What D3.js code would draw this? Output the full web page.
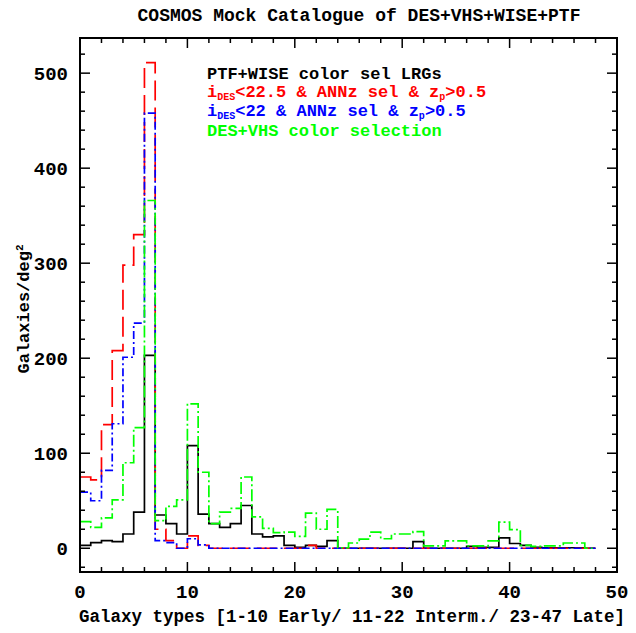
<!DOCTYPE html>
<html><head><meta charset="utf-8">
<script src="https://cdn.jsdelivr.net/npm/d3@7"></script>
<style>body{margin:0;background:#fff}</style>
</head><body>
<script>
// Bin i spans galaxy type [i, i+1)
const binStarts = d3.range(0, 48);
const lrgBlack = [3,6,8,7,15,38,203,35,26,15,108,36,26,22,26,45,15,12,13,3,1,3,2,8,0,0,0,0,0,0,0,7,0,0,0,0,2,1,1,11,5,3,1,0.5,0.5,0.5,0.5,0];
const desRed   = [75,72,130,208,298,330,511,20,8,0,13,3,0,0,0,0,0,0,0,0,0,3,0,0,0,0,0,0,0,0,0,0,0,0,0,0,0,0,0,0,0,0,0,0,0,0,0,0];
const desBlue  = [59,50,82,131,201,237,458,8,6,0,10,3.5,0,0,0,0,0,0,0,0,0,0,0,0,0,0,0,0,0,0,0,0,0,0,0,0,0,0,0,0,0,0,0,0,0,0,0,0];
const vhsGreen = [28,22,32,51,90,127,366,29,44,51,152,80,26,38,42,75,33,21,16.5,17,12.5,37,20,41,0.5,5.5,9.5,17,10,15,15,17.5,2.5,2.5,7.7,7.7,2.5,2.5,7.7,27.5,19.5,3,2,2.5,2.5,5.5,5.5,0];
const xTicks = [0,10,20,30,40,50];
const yTicks = [0,100,200,300,400,500];
const titleText = "COSMOS Mock Catalogue of DES+VHS+WISE+PTF";
const xLabel = "Galaxy types [1-10 Early/ 11-22 Interm./ 23-47 Late]";

const W = 636, H = 633;
const L = 80, R = 617, T = 38, B = 572;
const x = d3.scaleLinear().domain([0, 50]).range([L, R]);
const y = d3.scaleLinear().domain([-25, 537]).range([B, T]);
const font = "'Liberation Mono', monospace";

const svg = d3.select("body").append("svg").attr("width", W).attr("height", H);

const series = [
  {vals: lrgBlack, color: "#000000", dash: null},
  {vals: desRed, color: "#ff0000", dash: "20,7"},
  {vals: desBlue, color: "#0000ff", dash: "8,3,2,3"},
  {vals: vhsGreen, color: "#00ff00", dash: "12,3,2,3"}
];
const line = d3.line().x(d => x(d[0])).y(d => y(d[1])).curve(d3.curveStepAfter);
series.forEach(s => {
  const pts = binStarts.map((b, i) => [b, s.vals[i]]);
  pts.push([48, s.vals[47]]);
  svg.append("path").attr("d", line(pts)).attr("fill", "none")
    .attr("stroke", s.color).attr("stroke-width", 1.7)
    .attr("stroke-dasharray", s.dash);
});

// frame
svg.append("rect").attr("x", L).attr("y", T).attr("width", R - L).attr("height", B - T)
  .attr("fill", "none").attr("stroke", "#000").attr("stroke-width", 2);

// ticks
const g = svg.append("g").attr("stroke", "#000").attr("stroke-width", 1.5);
d3.range(0, 51, 2).forEach(v => {
  const len = v % 10 === 0 ? 10 : 5;
  g.append("line").attr("x1", x(v)).attr("x2", x(v)).attr("y1", B).attr("y2", B - len);
  g.append("line").attr("x1", x(v)).attr("x2", x(v)).attr("y1", T).attr("y2", T + len);
});
d3.range(-20, 537, 20).forEach(v => {
  const len = v % 100 === 0 ? 10 : 5;
  g.append("line").attr("y1", y(v)).attr("y2", y(v)).attr("x1", L).attr("x2", L + len);
  g.append("line").attr("y1", y(v)).attr("y2", y(v)).attr("x1", R).attr("x2", R - len);
});

// tick labels
svg.selectAll(".xt").data(xTicks).enter().append("text")
  .attr("x", d => x(d)).attr("y", 598).attr("text-anchor", "middle")
  .attr("font-family", font).attr("font-size", 19).attr("font-weight", "bold").text(d => d);
svg.selectAll(".yt").data(yTicks).enter().append("text")
  .attr("x", 68).attr("y", d => y(d) + 7).attr("text-anchor", "end")
  .attr("font-family", font).attr("font-size", 19).attr("font-weight", "bold").text(d => d);

// title and axis labels
svg.append("text").attr("x", 359).attr("y", 21).attr("text-anchor", "middle")
  .attr("font-family", font).attr("font-size", 18).attr("font-weight", "bold").text(titleText);
svg.append("text").attr("x", 352).attr("y", 622).attr("text-anchor", "middle")
  .attr("font-family", font).attr("font-size", 17.5).attr("font-weight", "bold").text(xLabel);
svg.append("text").attr("transform", "translate(29,309) rotate(-90)").attr("text-anchor", "middle")
  .attr("font-family", font).attr("font-size", 17).attr("font-weight", "bold")
  .text("Galaxies/deg").append("tspan").attr("dy", -6).attr("font-size", 11).text("2");

// legend
const lg = svg.append("g").attr("font-family", font).attr("font-weight", "bold");
lg.append("text").attr("x", 207).attr("y", 79).attr("font-size", 17).attr("fill", "#000").text("PTF+WISE color sel LRGs");
function subLine(yy, color, parts) {
  const t = lg.append("text").attr("x", 207).attr("y", yy).attr("font-size", 17).attr("fill", color);
  parts.forEach(p => {
    const ts = t.append("tspan").text(p.t);
    if (p.sub) ts.attr("dy", 3).attr("font-size", 10);
    if (p.back) ts.attr("dy", -3);
  });
}
subLine(97, "#ff0000", [{t:"i"},{t:"DES",sub:1},{t:"<22.5 & ANNz sel & z",back:1},{t:"p",sub:1},{t:">0.5",back:1}]);
subLine(116, "#0000ff", [{t:"i"},{t:"DES",sub:1},{t:"<22 & ANNz sel & z",back:1},{t:"p",sub:1},{t:">0.5",back:1}]);
lg.append("text").attr("x", 207).attr("y", 136).attr("font-size", 17).attr("fill", "#00ff00").text("DES+VHS color selection");
</script>
</body></html>
